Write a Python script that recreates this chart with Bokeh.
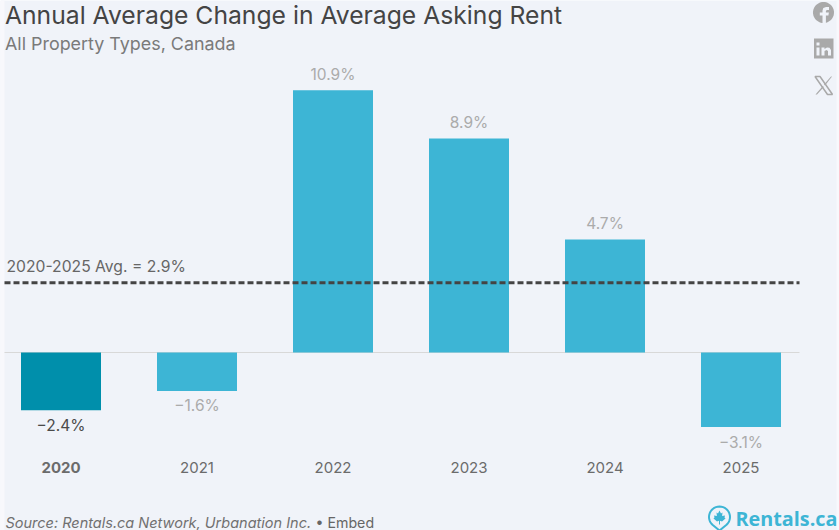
import numpy as np
from bokeh.plotting import figure
from bokeh.models import ColumnDataSource, Range1d, Label, PolyAnnotation, BoxAnnotation
from bokeh.embed import file_html
from bokeh.resources import INLINE

years = ["2020", "2021", "2022", "2023", "2024", "2025"]
changes = [-2.4, -1.6, 10.9, 8.9, 4.7, -3.1]
value_labels = ["\u22122.4%", "\u22121.6%", "10.9%", "8.9%", "4.7%", "\u22123.1%"]
average = 2.9
average_label = "2020-2025 Avg. = 2.9%"
title_text = "Annual Average Change in Average Asking Rent"
subtitle_text = "All Property Types, Canada"
source_text = "Source: Rentals.ca Network, Urbanation Inc."
embed_text = "\u2022 Embed"
brand_text = "Rentals.ca"

BG = "#f0f3f9"
EDGE = "#f8f8fc"
BAR = "#3db5d5"
BAR_HI = "#008fab"
ICON = "#a9a9a9"
FONT = "Inter"

W, H = 839, 530
PX_PER_UNIT = 24.05
ZERO = 352
XL, XR, STEP, X0 = 4, 799, 136, 60.5


def dx(px):
    return (px - X0) / STEP


def dy(px):
    return (ZERO - px) / PX_PER_UNIT


p = figure(width=W, height=H, output_backend="svg", toolbar_location=None,
           x_range=Range1d(dx(0), dx(W)), y_range=Range1d(dy(H), dy(0)),
           min_border=0, x_axis_location=None, y_axis_location=None)
p.background_fill_color = BG
p.border_fill_color = BG
p.outline_line_color = None
p.grid.visible = False

p.add_layout(BoxAnnotation(left=0, right=4, top=0, bottom=H, left_units="canvas", right_units="canvas",
                           top_units="canvas", bottom_units="canvas", fill_color=EDGE, fill_alpha=1, line_color=None,
                           level="underlay"))
p.add_layout(BoxAnnotation(left=836, right=W, top=0, bottom=H, left_units="canvas", right_units="canvas",
                           top_units="canvas", bottom_units="canvas", fill_color=EDGE, fill_alpha=1, line_color=None,
                           level="underlay"))

xs = list(range(len(years)))
src = ColumnDataSource(dict(
    x=xs, y=changes, lab=value_labels, year=years, yy=[dy(467)] * len(years),
    col=[BAR_HI if i == 0 else BAR for i in xs],
    tcol=["#4a4a4a" if i == 0 else "#ababab" for i in xs],
    off=[-16 if v > 0 else 15 for v in changes],
    ystyle=["bold" if i == 0 else "normal" for i in xs],
))
p.segment(x0=[dx(XL)], x1=[dx(XR)], y0=[0], y1=[0], line_color="#d8d8d8", line_width=1)
p.vbar(x="x", top="y", bottom=0, width=80 / STEP, fill_color="col", line_color=None, source=src)
p.segment(x0=[dx(XL)], x1=[dx(XR)], y0=[average], y1=[average], line_color="#444444", line_width=3, line_dash="6 3")
p.text(x="x", y="y", text="lab", text_color="tcol", y_offset="off", text_align="center",
       text_baseline="middle", text_font={"value": FONT}, text_font_size="15.5px", source=src)
p.text(x="x", y="yy", text="year", text_color="#6b6b6b", text_align="center", text_baseline="middle",
       text_font={"value": FONT}, text_font_size="15px", text_font_style="ystyle", source=src)


def label(text, x, y, size, color, **kw):
    p.add_layout(Label(x=x, y=y, x_units="canvas", y_units="canvas", text=text, text_font=kw.pop("font", FONT),
                       text_font_size=size, text_color=color, text_baseline="middle", **kw))


def poly(pts, fill=ICON, line=None, lw=1.0):
    a = np.array(pts, dtype=float)
    p.add_layout(PolyAnnotation(xs=list(a[:, 0]), ys=list(a[:, 1]), xs_units="canvas", ys_units="canvas",
                                fill_color=fill, fill_alpha=1 if fill else 0, line_color=line, line_width=lw,
                                line_alpha=1 if line else 0))


label(title_text, 4.5, 14, "24.7px", "#444444")
label(subtitle_text, 4.5, 42.5, "17.9px", "#7a7a7a")
label(average_label, 6, 266, "15.7px", "#666666")
label(source_text, 5, 522, "14.5px", "#707070", text_font_style="italic")
label(embed_text, 315, 522, "14.2px", "#666666")
label(brand_text, 735, 517.5, "19.8px", BAR, font="Open Sans", text_font_style="bold")

# social icons
t = np.linspace(0, 2 * np.pi, 48, endpoint=False)
poly(np.c_[823 + 10.5 * np.cos(t), 12 + 10.5 * np.sin(t)])
poly([(822, 23), (822, 15), (819.3, 15), (819.3, 12), (822, 12), (822, 10), (822.8, 7.4), (825.5, 6.5), (828.5, 6.6),
      (828.5, 9.4), (826.5, 9.4), (825.4, 10.2), (825.4, 12), (828.4, 12), (827.9, 15), (825.4, 15), (825.4, 23)], fill=BG)
poly([(813.5, 38), (833, 38), (833, 58), (813.5, 58)])
poly([(816, 42), (819, 42), (819, 45), (816, 45)], fill=BG)
poly([(816, 47), (819, 47), (819, 55), (816, 55)], fill=BG)
poly([(821, 47), (824, 47), (824, 48.5), (826.5, 47), (829, 47.3), (830.5, 49.5), (830.5, 55), (827.5, 55), (827.5, 50.5),
      (826, 49.5), (824, 50.5), (824, 55), (821, 55)], fill=BG)
poly([(814.5, 76), (819.5, 76), (832, 94), (827, 94)], fill=None, line=ICON, lw=1.5)
poly([(830.5, 76), (823.5, 84), (824.5, 85), (831.5, 76)], fill=ICON)
poly([(815, 94), (822.3, 85.5), (823.3, 86.5), (816.5, 94)], fill=ICON)

# logo pin
a = np.radians(np.arange(130, 411, 10))
pin = [(719 + 10.5 * np.cos(v), 516.5 + 10.5 * np.sin(v)) for v in a] + [(719, 530)]
poly(pin, fill=None, line=BAR, lw=2)
poly([(719, 510), (720.5, 513), (722, 512), (721.6, 515.5), (724.5, 515), (724, 517), (725, 518), (721.5, 521),
      (719.5, 520.3), (719.5, 524), (718.5, 524), (718.5, 520.3), (716.5, 521), (713, 518), (714, 517), (713.5, 515),
      (716.4, 515.5), (716, 512), (717.5, 513)], fill=BAR)

open("out.html", "w").write(file_html(p, INLINE))
